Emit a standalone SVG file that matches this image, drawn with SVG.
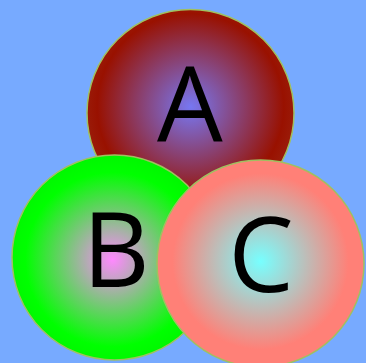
<svg xmlns="http://www.w3.org/2000/svg" width="366" height="363" viewBox="0 0 366 363">
<defs>
<radialGradient id="gA" cx="0.5" cy="0.47" r="0.5">
<stop offset="0" stop-color="#7777f2"/>
<stop offset="0.9" stop-color="#991100"/>
<stop offset="1" stop-color="#9a1a08"/>
</radialGradient>
<radialGradient id="gB" cx="0.49" cy="0.51" r="0.5">
<stop offset="0" stop-color="#ff88ff"/>
<stop offset="0.85" stop-color="#00ff00"/>
<stop offset="1" stop-color="#00f800"/>
</radialGradient>
<radialGradient id="gC" cx="0.5" cy="0.49" r="0.5">
<stop offset="0" stop-color="#77ffff"/>
<stop offset="0.85" stop-color="#ff8077"/>
<stop offset="1" stop-color="#ff8077"/>
</radialGradient>
<style>
.c{stroke:#a0c060;stroke-width:1.5}
.t{font-family:"Open Sans","Noto Sans",sans-serif;font-size:104px;fill:#000;text-anchor:middle}
</style>
</defs>
<rect width="366" height="363" fill="#77aaff"/>
<g id="A"><circle class="c" cx="190.5" cy="113" r="103.5" fill="url(#gA)"/><text class="t" x="190" y="142">A</text></g>
<g id="B"><circle class="c" cx="114.5" cy="257.5" r="102.5" fill="url(#gB)"/><text class="t" x="116" y="287">B</text></g>
<g id="C"><circle class="c" cx="260.5" cy="263.5" r="103.5" fill="url(#gC)"/><text class="t" x="261" y="292">C</text></g>
<g id="connectors"/>
</svg>
